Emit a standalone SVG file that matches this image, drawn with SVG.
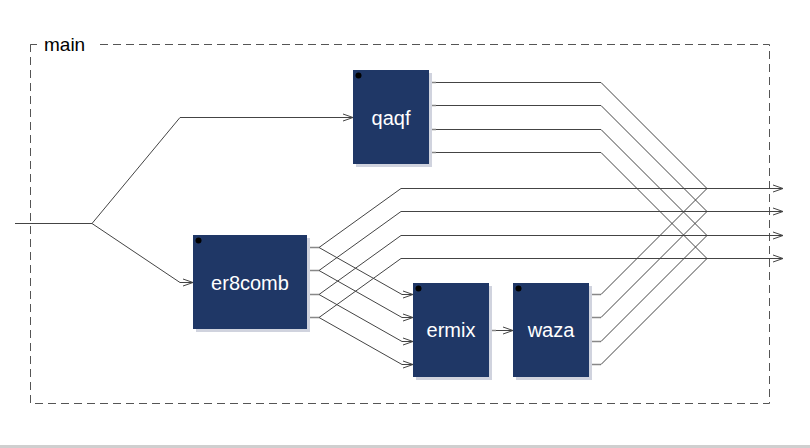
<svg xmlns="http://www.w3.org/2000/svg" width="810" height="448" viewBox="0 0 810 448">
<defs>
<marker id="arr" markerWidth="12" markerHeight="10" refX="11" refY="5" orient="auto" markerUnits="userSpaceOnUse">
<path d="M1,1.5 L11,5 L1,8.5" fill="none" stroke="#444" stroke-width="1"/>
</marker>
</defs>
<style>
.frame{fill:none;stroke:#555;stroke-width:1;stroke-dasharray:8,5}
.box{fill:#1f3766}
.shadow{fill:#d0d3de}
.dot{fill:#000}
.lbl{font-family:"Liberation Sans",Arial,sans-serif;font-size:20px;fill:#fff;text-anchor:middle}
.title{font-family:"Liberation Sans",Arial,sans-serif;font-size:19px;fill:#000}
.w{fill:none;stroke:#444;stroke-width:1}
.stub{fill:none;stroke:#888;stroke-width:1.5}
</style>
<rect x="0" y="0" width="810" height="448" fill="#fff"/>
<rect x="0" y="445" width="810" height="3" fill="#cfcfcf"/>
<g id="frame">
<path class="frame" d="M100,44.5 H769.5 V403.5 H30.5 V44.5"/>
<path d="M30.5,52 V44.5 H37" fill="none" stroke="#555"/>
<text class="title" x="44" y="51">main</text>
</g>
<g id="connectors">
<path class="w" d="M15,223.5 H92 L180,117.5 H353" marker-end="url(#arr)"/>
<path class="w" d="M92,223.5 L180,282.5 H193" marker-end="url(#arr)"/>
<path class="stub" d="M429,82.5 H436 M429,105.5 H436 M429,129.5 H436 M429,152.5 H436"/>
<path class="w" d="M436,82.5 H601 L707,188.5"/>
<path class="w" d="M436,105.5 H601 L707,211.5"/>
<path class="w" d="M436,129.5 H601 L707,235.5"/>
<path class="w" d="M436,152.5 H601 L707,258.5"/>
<path class="stub" d="M307,247.5 H319 M307,270.5 H319 M307,294.5 H319 M307,317.5 H319"/>
<path class="w" d="M319,247.5 L401,188.5 H783" marker-end="url(#arr)"/>
<path class="w" d="M319,270.5 L401,211.5 H783" marker-end="url(#arr)"/>
<path class="w" d="M319,294.5 L401,235.5 H783" marker-end="url(#arr)"/>
<path class="w" d="M319,317.5 L401,258.5 H783" marker-end="url(#arr)"/>
<path class="w" d="M319,247.5 L402,294.5 H413" marker-end="url(#arr)"/>
<path class="w" d="M319,270.5 L402,317.5 H413" marker-end="url(#arr)"/>
<path class="w" d="M319,294.5 L402,341.5 H413" marker-end="url(#arr)"/>
<path class="w" d="M319,317.5 L402,364.5 H413" marker-end="url(#arr)"/>
<path class="stub" d="M489,330.5 H496"/>
<path class="w" d="M496,330.5 H513" marker-end="url(#arr)"/>
<path class="stub" d="M589,294.5 H601 M589,317.5 H601 M589,341.5 H601 M589,364.5 H601"/>
<path class="w" d="M601,294.5 L707,188.5"/>
<path class="w" d="M601,317.5 L707,211.5"/>
<path class="w" d="M601,341.5 L707,235.5"/>
<path class="w" d="M601,364.5 L707,258.5"/>
</g>
<g id="qaqf">
<rect class="shadow" x="356" y="73" width="76" height="94"/>
<rect class="box" x="353" y="70" width="76" height="94"/>
<circle class="dot" cx="358.5" cy="75.5" r="3"/>
<text class="lbl" x="391" y="125">qaqf</text>
</g>
<g id="er8comb">
<rect class="shadow" x="196" y="238" width="114" height="94"/>
<rect class="box" x="193" y="235" width="114" height="94"/>
<circle class="dot" cx="198.5" cy="240.5" r="3"/>
<text class="lbl" x="250" y="290">er8comb</text>
</g>
<g id="ermix">
<rect class="shadow" x="416" y="286" width="76" height="94"/>
<rect class="box" x="413" y="283" width="76" height="94"/>
<circle class="dot" cx="418.5" cy="288.5" r="3"/>
<text class="lbl" x="451" y="337">ermix</text>
</g>
<g id="waza">
<rect class="shadow" x="516" y="286" width="76" height="94"/>
<rect class="box" x="513" y="283" width="76" height="94"/>
<circle class="dot" cx="518.5" cy="288.5" r="3"/>
<text class="lbl" x="551" y="337">waza</text>
</g>
</svg>
